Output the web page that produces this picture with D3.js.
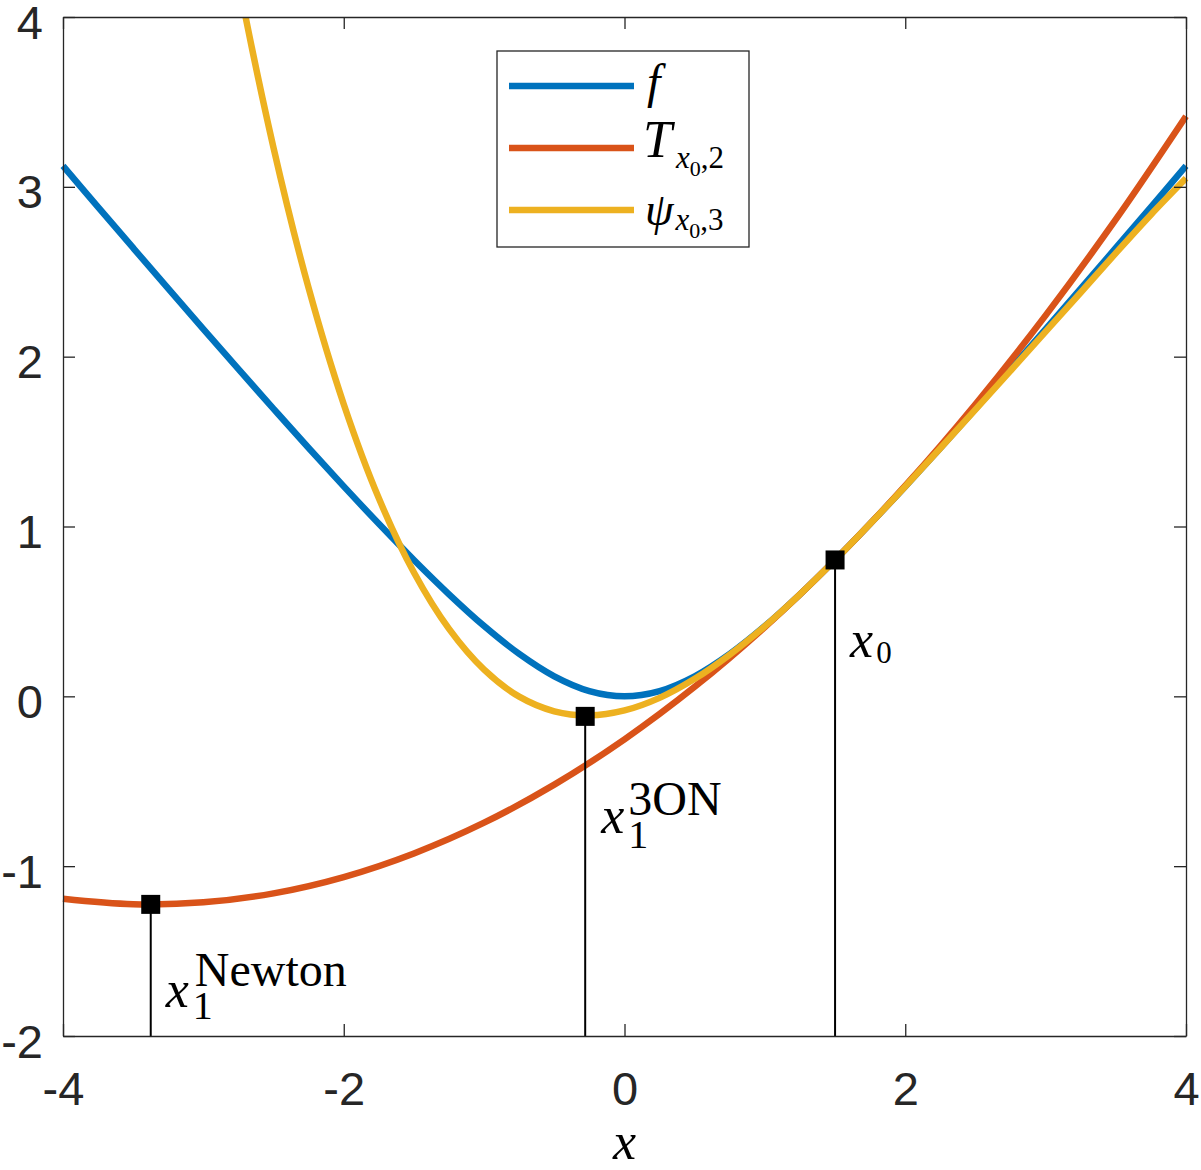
<!DOCTYPE html>
<html>
<head>
<meta charset="utf-8">
<script src="https://cdn.jsdelivr.net/npm/d3@7"></script>
<style>
  body { margin: 0; background: #fff; }
  svg { display: block; }
</style>
</head>
<body>
<div id="chart-area"></div>
<script>
// values

// f
let fX = [-4, -3.75, -3.5, -3.25, -3, -2.75, -2.5, -2.25, -2, -1.75, -1.5, -1.25, -1, -0.75, -0.5, -0.25,
  0, 0.25, 0.5, 0.75, 1, 1.25, 1.5, 1.75, 2, 2.25, 2.5, 2.75, 3, 3.25, 3.5, 3.75, 4];
let fY = [3.123, 2.881, 2.640, 2.400, 2.162, 1.926, 1.693, 1.462, 1.236, 1.016, 0.803, 0.601, 0.414, 0.250, 0.118, 0.031,
  0, 0.031, 0.118, 0.250, 0.414, 0.601, 0.803, 1.016, 1.236, 1.462, 1.693, 1.926, 2.162, 2.400, 2.640, 2.881, 3.123];

// T_{x0,2}
let tX = [-4, -3.5, -3, -2.5, -2, -1.5, -1, -0.5, 0, 0.5, 1, 1.5, 2, 2.5, 3, 3.5, 4];
let tY = [-1.192, -1.224, -1.213, -1.160, -1.064, -0.925, -0.744, -0.520, -0.253, 0.056, 0.408, 0.803, 1.240, 1.720, 2.243, 2.808, 3.416];

// psi_{x0,3}
let pX = [-3, -2.75, -2.5, -2.25, -2, -1.75, -1.5, -1.25, -1, -0.75, -0.5, -0.25, 0, 0.25, 0.5, 0.75,
  1, 1.25, 1.5, 1.75, 2, 2.25, 2.5, 2.75, 3, 3.25, 3.5, 3.75, 4];
let pY = [5.369, 4.213, 3.229, 2.403, 1.720, 1.166, 0.729, 0.397, 0.157, -0.002, -0.088, -0.112, -0.083, -0.009, 0.103, 0.246,
  0.413, 0.601, 0.803, 1.016, 1.236, 1.461, 1.688, 1.917, 2.147, 2.378, 2.610, 2.836, 3.05];

// marked points
let pointNames = ["x0", "3ON", "Newton"];
let pointX = [1.5, -0.28, -3.375];
let pointY = [0.803, -0.118, -1.225];

// ticks
let xTicks = [-4, -2, 0, 2, 4];
let yTicks = [-2, -1, 0, 1, 2, 3, 4];

let colors = ["#0072BD", "#D95319", "#EDB120"];

let margin = { top: 17, right: 15, bottom: 134, left: 63 };
let width = 1201 - margin.left - margin.right,
  height = 1170 - margin.top - margin.bottom;

let svg = d3
  .select("#chart-area")
  .append("svg")
  .attr("width", 1201)
  .attr("height", 1170)
  .append("g")
  .attr("transform", "translate(" + margin.left + "," + margin.top + ")");

let xScale = d3.scaleLinear().domain([-4, 4]).range([0, width]);
let yScale = d3.scaleLinear().domain([-2, 4]).range([height, 0]);

svg.append("clipPath")
  .attr("id", "clip")
  .append("rect")
  .attr("x", -10)
  .attr("y", 0)
  .attr("width", width + 20)
  .attr("height", height + 10);

let line = d3.line()
  .x(d => xScale(d[0]))
  .y(d => yScale(d[1]))
  .curve(d3.curveCatmullRom);

let series = [d3.zip(fX, fY), d3.zip(tX, tY), d3.zip(pX, pY)];

svg.append("g")
  .attr("clip-path", "url(#clip)")
  .selectAll("path")
  .data(series)
  .enter()
  .append("path")
  .attr("d", line)
  .attr("fill", "none")
  .attr("stroke", (d, i) => colors[i])
  .attr("stroke-width", 6.5);

// stems + markers
let points = d3.zip(pointX, pointY);

svg.selectAll(".stem")
  .data(points)
  .enter()
  .append("line")
  .attr("class", "stem")
  .attr("x1", d => xScale(d[0]))
  .attr("x2", d => xScale(d[0]))
  .attr("y1", d => yScale(d[1]))
  .attr("y2", yScale(-2))
  .attr("stroke", "#000")
  .attr("stroke-width", 2);

let sq = 19;
svg.selectAll(".marker")
  .data(points)
  .enter()
  .append("rect")
  .attr("class", "marker")
  .attr("x", d => xScale(d[0]) - sq / 2)
  .attr("y", d => yScale(d[1]) - sq / 2)
  .attr("width", sq)
  .attr("height", sq)
  .attr("fill", "#000");

// axes
let axisColor = "#262626";
let tickFont = "'Liberation Sans', Arial, Helvetica, sans-serif";

let xAxis = d3.axisBottom(xScale).tickValues(xTicks).tickSizeInner(-12).tickSizeOuter(0)
  .tickFormat(d => String(d));
let yAxis = d3.axisLeft(yScale).tickValues(yTicks).tickSizeInner(-12).tickSizeOuter(0)
  .tickFormat(d => String(d));

let gx = svg.append("g")
  .attr("transform", "translate(0," + height + ")")
  .call(xAxis);
gx.selectAll("text").attr("y", 69).attr("dy", null);

let gy = svg.append("g").call(yAxis);
gy.selectAll("text").attr("x", -20).attr("y", 21).attr("dy", null);

svg.append("g")
  .call(d3.axisTop(xScale).tickValues(xTicks).tickSizeInner(-12).tickSizeOuter(0).tickFormat(""));
svg.append("g")
  .attr("transform", "translate(" + width + ",0)")
  .call(d3.axisRight(yScale).tickValues(yTicks).tickSizeInner(-12).tickSizeOuter(0).tickFormat(""));

svg.selectAll(".domain, .tick line")
  .attr("stroke", axisColor)
  .attr("stroke-width", 1.3);
svg.selectAll(".tick text")
  .attr("fill", axisColor)
  .style("font-family", tickFont)
  .style("font-size", "47px");

// math text: one <text> per label, pieces as tspans
// parts: [string, fontSize, italic, dx, dy]
let mathFont = "'Liberation Serif', 'Times New Roman', serif";
function mathText(parent, x, y, parts) {
  let t = parent.append("text")
    .attr("x", x)
    .attr("y", y)
    .attr("fill", "#000")
    .style("font-family", mathFont);
  parts.forEach(p => {
    t.append("tspan")
      .attr("dx", p[3] || 0)
      .attr("dy", p[4] || 0)
      .style("font-size", p[1] + "px")
      .style("font-style", p[2] ? "italic" : "normal")
      .text(p[0]);
  });
}

// x axis label
svg.append("text")
  .attr("x", xScale(0))
  .attr("y", height + 123)
  .attr("text-anchor", "middle")
  .text("x")
  .style("font-family", mathFont)
  .style("font-size", "52px")
  .style("font-style", "italic")
  .attr("fill", "#000");

// point labels
points.forEach((p, i) => {
  let px = xScale(p[0]), py = yScale(p[1]);
  let name = pointNames[i];
  if (name === "x0") {
    mathText(svg, px + 15, py + 97, [["x", 52, true], ["0", 31, false, 3, 6]]);
  } else if (name === "3ON") {
    mathText(svg, px + 16, py + 117, [["x", 52, true], ["1", 40, false, 4, 15], ["3ON", 48, false, -20, -33]]);
  } else {
    mathText(svg, px + 15, py + 103, [["x", 52, true], ["1", 40, false, 4, 12], ["Newton", 48, false, -18, -33]]);
  }
});

// legend
let legend = svg.append("g")
  .attr("transform", "translate(" + (497 - margin.left) + "," + (51 - margin.top) + ")");

legend.append("rect")
  .attr("width", 252)
  .attr("height", 196)
  .attr("fill", "#fff")
  .attr("stroke", axisColor)
  .attr("stroke-width", 1.3);

let legendRows = [35, 97, 159];
legend.selectAll("line")
  .data(colors)
  .enter()
  .append("line")
  .attr("x1", 12)
  .attr("x2", 137)
  .attr("y1", (d, i) => legendRows[i])
  .attr("y2", (d, i) => legendRows[i])
  .attr("stroke", d => d)
  .attr("stroke-width", 6.5);

mathText(legend, 150, 47, [["f", 48, true]]);
mathText(legend, 146, 106, [["T", 52, true], ["x", 31, true, 4, 11], ["0", 22, false, 0, 8], [",2", 31, false, 0, -8]]);
mathText(legend, 148, 174, [["ψ", 46, true], ["x", 31, true, 2, 5], ["0", 22, false, 0, 8], [",3", 31, false, 0, -8]]);
</script>
</body>
</html>
